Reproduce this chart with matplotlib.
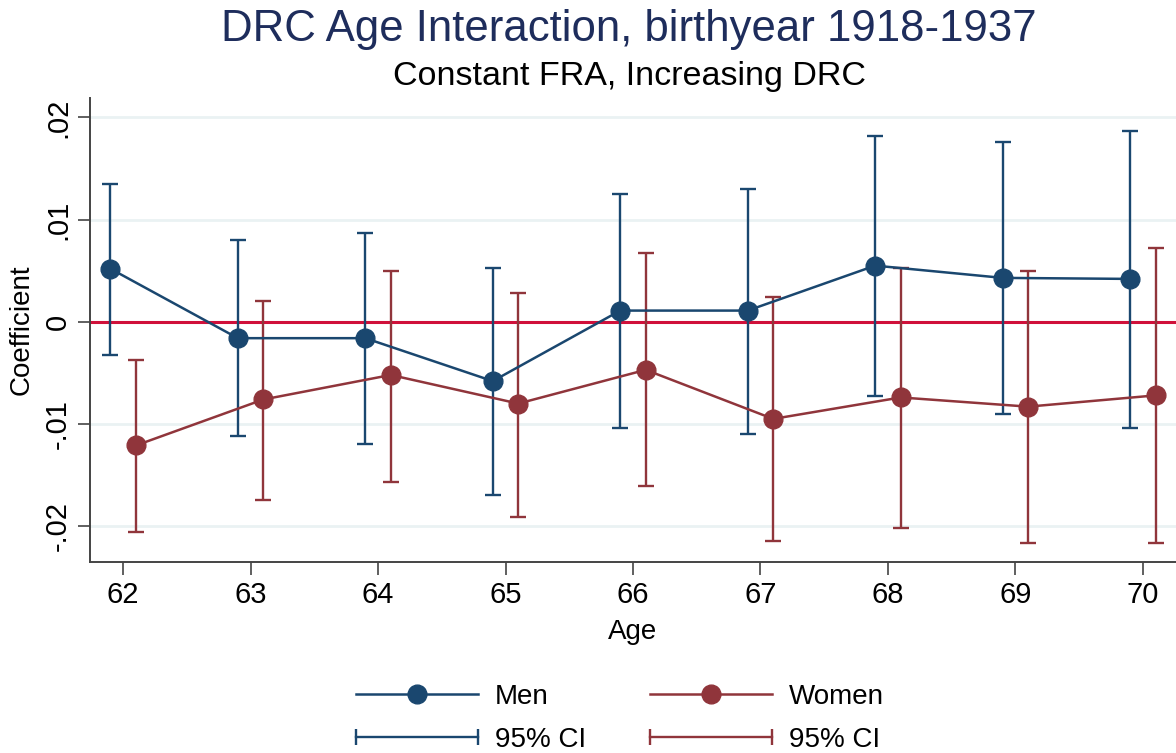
import matplotlib
matplotlib.use('Agg')
import matplotlib.pyplot as plt
from matplotlib.lines import Line2D
from matplotlib.legend_handler import HandlerLine2D
import numpy as np

plt.rcParams['font.family'] = ['Liberation Sans', 'DejaVu Sans']

ages = [62, 63, 64, 65, 66, 67, 68, 69, 70]

men_coef = [0.0052, -0.0016, -0.0016, -0.0058, 0.0011, 0.0011, 0.0055, 0.0043, 0.0042]
men_lo = [-0.0032, -0.0112, -0.0120, -0.0169, -0.0104, -0.0110, -0.0073, -0.0090, -0.0104]
men_hi = [0.0135, 0.0080, 0.0087, 0.0053, 0.0125, 0.0130, 0.0182, 0.0176, 0.0187]

women_coef = [-0.0121, -0.0076, -0.0052, -0.0080, -0.0047, -0.0095, -0.0074, -0.0083, -0.0072]
women_lo = [-0.0206, -0.0174, -0.0157, -0.0191, -0.0161, -0.0214, -0.0202, -0.0216, -0.0216]
women_hi = [-0.0037, 0.0020, 0.0050, 0.0028, 0.0067, 0.0024, 0.0053, 0.0050, 0.0072]

men_color = '#1a476f'
women_color = '#90353b'

fig = plt.figure(figsize=(11.76, 7.53), dpi=100)
ax = fig.add_axes([0.0765, 0.2537, 0.9235, 0.6161])

x = np.array(ages, dtype=float)

def draw_series(xs, coef, lo, hi, color):
    coef = np.array(coef)
    err = [coef - np.array(lo), np.array(hi) - coef]
    ax.errorbar(xs, coef, yerr=err, fmt='none', ecolor=color, elinewidth=1.7,
                capsize=6, capthick=1.7, zorder=3)
    ax.plot(xs, coef, color=color, lw=1.8, marker='o', ms=13.5, zorder=4)

ax.axhline(0, color='#d0103a', lw=2.2, zorder=2)
draw_series(x - 0.1, men_coef, men_lo, men_hi, men_color)
draw_series(x + 0.1, women_coef, women_lo, women_hi, women_color)

ax.set_xlim(61.74, 70.26)
ax.set_ylim(-0.0235, 0.0219)
ax.set_xticks(ages)
ax.set_xticklabels([str(a) for a in ages], fontsize=21)
ax.set_yticks([-0.02, -0.01, 0, 0.01, 0.02])
ax.set_yticklabels(['-.02', '-.01', '0', '.01', '.02'], fontsize=21,
                   rotation=90, va='center')
ax.tick_params(direction='out', length=9, width=1.2, color='#444444')
ax.tick_params(axis='x', pad=5)
ax.tick_params(axis='y', pad=4)
ax.yaxis.grid(True, color='#eaf2f3', lw=2)
ax.set_axisbelow(True)
for s in ['top', 'right']:
    ax.spines[s].set_visible(False)
for s in ['left', 'bottom']:
    ax.spines[s].set_color('#444444')
    ax.spines[s].set_linewidth(1.4)

ax.set_xlabel('Age', fontsize=20, labelpad=7)
ax.set_ylabel('Coefficient', fontsize=20, labelpad=7)

fig.text(0.535, 0.945, 'DRC Age Interaction, birthyear 1918-1937', ha='center',
         va='baseline', fontsize=31.5, color='#1e2d5c')
fig.text(0.535, 0.887, 'Constant FRA, Increasing DRC', ha='center',
         va='baseline', fontsize=24.5, color='black')

# legend: point+line for the estimates, capped bar for the intervals
h_men = Line2D([], [], color=men_color, lw=1.8, marker='o', ms=13.5)
h_women = Line2D([], [], color=women_color, lw=1.8, marker='o', ms=13.5)
h_men_ci = Line2D([], [], color=men_color, lw=1.7, marker='|', ms=12, mew=1.7)
h_women_ci = Line2D([], [], color=women_color, lw=1.7, marker='|', ms=12, mew=1.7)
fig.legend([h_men, h_men_ci, h_women, h_women_ci],
           ['Men', '95% CI', 'Women', '95% CI'],
           handler_map={h_men: HandlerLine2D(numpoints=1),
                        h_women: HandlerLine2D(numpoints=1),
                        h_men_ci: HandlerLine2D(numpoints=2, marker_pad=0),
                        h_women_ci: HandlerLine2D(numpoints=2, marker_pad=0)},
           ncol=2, loc='center', bbox_to_anchor=(0.527, 0.046), frameon=False,
           fontsize=20, handlelength=4.4, handletextpad=0.6, columnspacing=2.3,
           labelspacing=0.6)

fig.savefig('out.png', dpi=100)
